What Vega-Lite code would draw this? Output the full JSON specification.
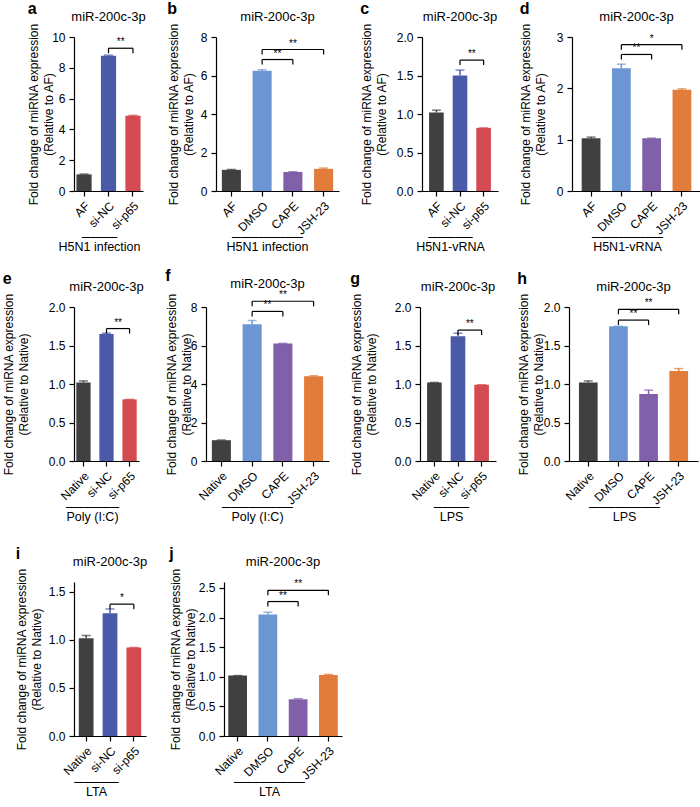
{
"$schema": "https://vega.github.io/schema/vega-lite/v6.json",
"padding": {"left": 2, "top": 0, "right": 0, "bottom": 0},
"config": {
  "font": "Liberation Sans",
  "view": {"stroke": null},
  "axis": {"grid": false, "domainColor": "#000", "tickColor": "#000", "labelColor": "#000", "titleColor": "#000", "labelFontSize": 12, "titleFontSize": 12, "titleFontWeight": "normal", "tickSize": 5, "domainWidth": 1.2, "tickWidth": 1.2, "labelPadding": 4, "titleLineHeight": 15, "labelOverlap": false},
  "axisX": {"labelAngle": -45, "titlePadding": 4, "titleFontSize": 12.5},
  "title": {"anchor": "start", "frame": "bounds", "fontSize": 16, "fontWeight": "bold", "offset": -6, "color": "#000"},
  "text": {"color": "#000"}
},
"datasets": {
  "bars": [
    {"p": "a", "c": "AF", "v": 1.08, "hi": 1.10},
    {"p": "a", "c": "si-NC", "v": 8.79, "hi": 8.82},
    {"p": "a", "c": "si-p65", "v": 4.89, "hi": 4.91},
    {"p": "b", "c": "AF", "v": 1.10, "hi": 1.12},
    {"p": "b", "c": "DMSO", "v": 6.25, "hi": 6.30},
    {"p": "b", "c": "CAPE", "v": 0.99, "hi": 1.00},
    {"p": "b", "c": "JSH-23", "v": 1.15, "hi": 1.19},
    {"p": "c", "c": "AF", "v": 1.02, "hi": 1.05},
    {"p": "c", "c": "si-NC", "v": 1.50, "hi": 1.57},
    {"p": "c", "c": "si-p65", "v": 0.82, "hi": 0.82},
    {"p": "d", "c": "AF", "v": 1.03, "hi": 1.05},
    {"p": "d", "c": "DMSO", "v": 2.39, "hi": 2.47},
    {"p": "d", "c": "CAPE", "v": 1.03, "hi": 1.03},
    {"p": "d", "c": "JSH-23", "v": 1.97, "hi": 1.99},
    {"p": "e", "c": "Native", "v": 1.02, "hi": 1.04},
    {"p": "e", "c": "si-NC", "v": 1.65, "hi": 1.66},
    {"p": "e", "c": "si-p65", "v": 0.80, "hi": 0.80},
    {"p": "f", "c": "Native", "v": 1.08, "hi": 1.09},
    {"p": "f", "c": "DMSO", "v": 7.10, "hi": 7.30},
    {"p": "f", "c": "CAPE", "v": 6.10, "hi": 6.11},
    {"p": "f", "c": "JSH-23", "v": 4.40, "hi": 4.43},
    {"p": "g", "c": "Native", "v": 1.02, "hi": 1.02},
    {"p": "g", "c": "si-NC", "v": 1.62, "hi": 1.66},
    {"p": "g", "c": "si-p65", "v": 0.99, "hi": 0.99},
    {"p": "h", "c": "Native", "v": 1.02, "hi": 1.04},
    {"p": "h", "c": "DMSO", "v": 1.75, "hi": 1.75},
    {"p": "h", "c": "CAPE", "v": 0.87, "hi": 0.92},
    {"p": "h", "c": "JSH-23", "v": 1.17, "hi": 1.20},
    {"p": "i", "c": "Native", "v": 1.015, "hi": 1.045},
    {"p": "i", "c": "si-NC", "v": 1.275, "hi": 1.32},
    {"p": "i", "c": "si-p65", "v": 0.92, "hi": 0.92},
    {"p": "j", "c": "Native", "v": 1.02, "hi": 1.02},
    {"p": "j", "c": "DMSO", "v": 2.05, "hi": 2.09},
    {"p": "j", "c": "CAPE", "v": 0.62, "hi": 0.63},
    {"p": "j", "c": "JSH-23", "v": 1.03, "hi": 1.04}
  ],
  "br": [
    {"p": "a", "from": "si-NC", "to": "si-p65", "y": 9.27, "t": "**"},
    {"p": "b", "from": "DMSO", "to": "CAPE", "y": 6.83, "t": "**"},
    {"p": "b", "from": "DMSO", "to": "JSH-23", "y": 7.35, "t": "**"},
    {"p": "c", "from": "si-NC", "to": "si-p65", "y": 1.70, "t": "**"},
    {"p": "d", "from": "DMSO", "to": "CAPE", "y": 2.66, "t": "**"},
    {"p": "d", "from": "DMSO", "to": "JSH-23", "y": 2.85, "t": "*"},
    {"p": "e", "from": "si-NC", "to": "si-p65", "y": 1.72, "t": "**"},
    {"p": "f", "from": "DMSO", "to": "CAPE", "y": 7.77, "t": "**"},
    {"p": "f", "from": "DMSO", "to": "JSH-23", "y": 8.30, "t": "**"},
    {"p": "g", "from": "si-NC", "to": "si-p65", "y": 1.70, "t": "**"},
    {"p": "h", "from": "DMSO", "to": "CAPE", "y": 1.83, "t": "**"},
    {"p": "h", "from": "DMSO", "to": "JSH-23", "y": 1.97, "t": "**"},
    {"p": "i", "from": "si-NC", "to": "si-p65", "y": 1.37, "t": "*"},
    {"p": "j", "from": "DMSO", "to": "CAPE", "y": 2.27, "t": "**"},
    {"p": "j", "from": "DMSO", "to": "JSH-23", "y": 2.46, "t": "**"}
  ]
},
"spacing": 22,
"vconcat": [
{"spacing": 15, "vconcat": [
{"spacing": 21, "hconcat": [
{"title": {"text": "a"}, "vconcat": [{
 "title": {"text": "miR-200c-3p", "anchor": "middle", "frame": "group", "fontSize": 13, "fontWeight": "normal", "offset": -1},
 "width": 69, "height": 154,
 "layer": [
  {"data": {"name": "bars"}, "transform": [{"filter": "datum.p == 'a'"}], "mark": "bar",
   "encoding": {
     "x": {"field": "c", "type": "nominal", "scale": {"domain": ["AF", "si-NC", "si-p65"], "paddingInner": 0.38, "paddingOuter": 0.1}, "axis": {"title": ["────", "H5N1 infection"], "titleX": 25, "titleY": 39, "titleLineHeight": 10}},
     "y": {"field": "v", "type": "quantitative", "scale": {"domain": [0, 10]}, "axis": {"values": [0, 2, 4, 6, 8, 10], "format": "d", "tickCount": 12, "labelOverlap": false, "title": ["Fold change of miRNA expression", "(Relative to AF)"], "titlePadding": -4}},
     "color": {"field": "c", "type": "nominal", "scale": {"domain": ["AF", "Native", "si-NC", "si-p65", "DMSO", "CAPE", "JSH-23"], "range": ["#404040", "#404040", "#4b5aa8", "#d34a50", "#6b96d3", "#8060a8", "#e17c3b"]}, "legend": null}}},
  {"data": {"name": "bars"}, "transform": [{"filter": "datum.p == 'a'"}], "mark": {"type": "rule", "strokeWidth": 1.5},
   "encoding": {"x": {"field": "c", "type": "nominal"}, "y": {"field": "v", "type": "quantitative"}, "y2": {"field": "hi"}, "color": {"field": "c", "type": "nominal", "legend": null}}},
  {"data": {"name": "bars"}, "transform": [{"filter": "datum.p == 'a'"}], "mark": {"type": "tick", "thickness": 1.5, "size": 9},
   "encoding": {"x": {"field": "c", "type": "nominal"}, "y": {"field": "hi", "type": "quantitative"}, "color": {"field": "c", "type": "nominal", "legend": null}}},
  {"data": {"name": "br"}, "transform": [{"filter": "datum.p == 'a'"}], "mark": {"type": "rule", "color": "#000", "strokeWidth": 1.2},
   "encoding": {"x": {"field": "from", "type": "nominal"}, "x2": {"field": "to"}, "y": {"field": "y", "type": "quantitative"}}},
  {"data": {"name": "br"}, "transform": [{"filter": "datum.p == 'a'"}], "mark": {"type": "rule", "color": "#000", "strokeWidth": 1.2, "y2Offset": 5},
   "encoding": {"x": {"field": "from", "type": "nominal"}, "y": {"field": "y", "type": "quantitative"}, "y2": {"field": "y"}}},
  {"data": {"name": "br"}, "transform": [{"filter": "datum.p == 'a'"}], "mark": {"type": "rule", "color": "#000", "strokeWidth": 1.2, "y2Offset": 5},
   "encoding": {"x": {"field": "to", "type": "nominal"}, "y": {"field": "y", "type": "quantitative"}, "y2": {"field": "y"}}},
  {"data": {"name": "br"}, "transform": [{"filter": "datum.p == 'a'"}], "mark": {"type": "text", "baseline": "bottom", "fontSize": 10, "dy": -1, "color": "#000"},
   "encoding": {"x": {"field": "from", "type": "nominal", "bandPosition": 1.3065}, "y": {"field": "y", "type": "quantitative"}, "text": {"field": "t"}}}
 ]
}]},
{"title": {"text": "b"}, "vconcat": [{
 "title": {"text": "miR-200c-3p", "anchor": "middle", "frame": "group", "fontSize": 13, "fontWeight": "normal", "offset": -1},
 "width": 123, "height": 154,
 "layer": [
  {"data": {"name": "bars"}, "transform": [{"filter": "datum.p == 'b'"}], "mark": "bar",
   "encoding": {
     "x": {"field": "c", "type": "nominal", "scale": {"domain": ["AF", "DMSO", "CAPE", "JSH-23"], "paddingInner": 0.38, "paddingOuter": 0.19}, "axis": {"title": ["────────", "H5N1 infection"], "titleX": 51, "titleY": 39, "titleLineHeight": 10}},
     "y": {"field": "v", "type": "quantitative", "scale": {"domain": [0, 8]}, "axis": {"values": [0, 2, 4, 6, 8], "format": "d", "tickCount": 12, "labelOverlap": false, "title": ["Fold change of miRNA expression", "(Relative to AF)"], "titlePadding": 5}},
     "color": {"field": "c", "type": "nominal", "scale": {"domain": ["AF", "Native", "si-NC", "si-p65", "DMSO", "CAPE", "JSH-23"], "range": ["#404040", "#404040", "#4b5aa8", "#d34a50", "#6b96d3", "#8060a8", "#e17c3b"]}, "legend": null}}},
  {"data": {"name": "bars"}, "transform": [{"filter": "datum.p == 'b'"}], "mark": {"type": "rule", "strokeWidth": 1.5},
   "encoding": {"x": {"field": "c", "type": "nominal"}, "y": {"field": "v", "type": "quantitative"}, "y2": {"field": "hi"}, "color": {"field": "c", "type": "nominal", "legend": null}}},
  {"data": {"name": "bars"}, "transform": [{"filter": "datum.p == 'b'"}], "mark": {"type": "tick", "thickness": 1.5, "size": 9},
   "encoding": {"x": {"field": "c", "type": "nominal"}, "y": {"field": "hi", "type": "quantitative"}, "color": {"field": "c", "type": "nominal", "legend": null}}},
  {"data": {"name": "br"}, "transform": [{"filter": "datum.p == 'b'"}], "mark": {"type": "rule", "color": "#000", "strokeWidth": 1.2},
   "encoding": {"x": {"field": "from", "type": "nominal"}, "x2": {"field": "to"}, "y": {"field": "y", "type": "quantitative"}}},
  {"data": {"name": "br"}, "transform": [{"filter": "datum.p == 'b'"}], "mark": {"type": "rule", "color": "#000", "strokeWidth": 1.2, "y2Offset": 5},
   "encoding": {"x": {"field": "from", "type": "nominal"}, "y": {"field": "y", "type": "quantitative"}, "y2": {"field": "y"}}},
  {"data": {"name": "br"}, "transform": [{"filter": "datum.p == 'b'"}], "mark": {"type": "rule", "color": "#000", "strokeWidth": 1.2, "y2Offset": 5},
   "encoding": {"x": {"field": "to", "type": "nominal"}, "y": {"field": "y", "type": "quantitative"}, "y2": {"field": "y"}}},
  {"data": {"name": "br"}, "transform": [{"filter": "datum.p == 'b' && datum.to != 'JSH-23'"}], "mark": {"type": "text", "baseline": "bottom", "fontSize": 10, "dy": -1, "color": "#000"},
   "encoding": {"x": {"field": "from", "type": "nominal", "bandPosition": 1.3065}, "y": {"field": "y", "type": "quantitative"}, "text": {"field": "t"}}},
  {"data": {"name": "br"}, "transform": [{"filter": "datum.p == 'b' && datum.to == 'JSH-23'"}], "mark": {"type": "text", "baseline": "bottom", "fontSize": 10, "dy": -1, "color": "#000"},
   "encoding": {"x": {"field": "from", "type": "nominal", "bandPosition": 2.1129}, "y": {"field": "y", "type": "quantitative"}, "text": {"field": "t"}}}
 ]
}]},
{"title": {"text": "c"}, "vconcat": [{
 "title": {"text": "miR-200c-3p", "anchor": "middle", "frame": "group", "fontSize": 13, "fontWeight": "normal", "offset": -1},
 "width": 76, "height": 154,
 "layer": [
  {"data": {"name": "bars"}, "transform": [{"filter": "datum.p == 'c'"}], "mark": "bar",
   "encoding": {
     "x": {"field": "c", "type": "nominal", "scale": {"domain": ["AF", "si-NC", "si-p65"], "paddingInner": 0.38, "paddingOuter": 0.3}, "axis": {"title": ["─────", "H5N1-vRNA"], "titleX": 28, "titleY": 39, "titleLineHeight": 10}},
     "y": {"field": "v", "type": "quantitative", "scale": {"domain": [0, 2]}, "axis": {"values": [0, 0.5, 1, 1.5, 2], "tickCount": 12, "labelOverlap": false, "format": ".1f", "title": ["Fold change of miRNA expression", "(Relative to AF)"], "titlePadding": 8}},
     "color": {"field": "c", "type": "nominal", "scale": {"domain": ["AF", "Native", "si-NC", "si-p65", "DMSO", "CAPE", "JSH-23"], "range": ["#404040", "#404040", "#4b5aa8", "#d34a50", "#6b96d3", "#8060a8", "#e17c3b"]}, "legend": null}}},
  {"data": {"name": "bars"}, "transform": [{"filter": "datum.p == 'c'"}], "mark": {"type": "rule", "strokeWidth": 1.5},
   "encoding": {"x": {"field": "c", "type": "nominal"}, "y": {"field": "v", "type": "quantitative"}, "y2": {"field": "hi"}, "color": {"field": "c", "type": "nominal", "legend": null}}},
  {"data": {"name": "bars"}, "transform": [{"filter": "datum.p == 'c'"}], "mark": {"type": "tick", "thickness": 1.5, "size": 9},
   "encoding": {"x": {"field": "c", "type": "nominal"}, "y": {"field": "hi", "type": "quantitative"}, "color": {"field": "c", "type": "nominal", "legend": null}}},
  {"data": {"name": "br"}, "transform": [{"filter": "datum.p == 'c'"}], "mark": {"type": "rule", "color": "#000", "strokeWidth": 1.2},
   "encoding": {"x": {"field": "from", "type": "nominal"}, "x2": {"field": "to"}, "y": {"field": "y", "type": "quantitative"}}},
  {"data": {"name": "br"}, "transform": [{"filter": "datum.p == 'c'"}], "mark": {"type": "rule", "color": "#000", "strokeWidth": 1.2, "y2Offset": 5},
   "encoding": {"x": {"field": "from", "type": "nominal"}, "y": {"field": "y", "type": "quantitative"}, "y2": {"field": "y"}}},
  {"data": {"name": "br"}, "transform": [{"filter": "datum.p == 'c'"}], "mark": {"type": "rule", "color": "#000", "strokeWidth": 1.2, "y2Offset": 5},
   "encoding": {"x": {"field": "to", "type": "nominal"}, "y": {"field": "y", "type": "quantitative"}, "y2": {"field": "y"}}},
  {"data": {"name": "br"}, "transform": [{"filter": "datum.p == 'c'"}], "mark": {"type": "text", "baseline": "bottom", "fontSize": 10, "dy": -1, "color": "#000"},
   "encoding": {"x": {"field": "from", "type": "nominal", "bandPosition": 1.3065}, "y": {"field": "y", "type": "quantitative"}, "text": {"field": "t"}}}
 ]
}]},
{"title": {"text": "d"}, "vconcat": [{
 "title": {"text": "miR-200c-3p", "anchor": "middle", "frame": "group", "fontSize": 13, "fontWeight": "normal", "offset": -1},
 "width": 129, "height": 154,
 "layer": [
  {"data": {"name": "bars"}, "transform": [{"filter": "datum.p == 'd'"}], "mark": "bar",
   "encoding": {
     "x": {"field": "c", "type": "nominal", "scale": {"domain": ["AF", "DMSO", "CAPE", "JSH-23"], "paddingInner": 0.38, "paddingOuter": 0.32}, "axis": {"title": ["────────", "H5N1-vRNA"], "titleX": 55, "titleY": 39, "titleLineHeight": 10}},
     "y": {"field": "v", "type": "quantitative", "scale": {"domain": [0, 3]}, "axis": {"values": [0, 1, 2, 3], "format": "d", "tickCount": 12, "labelOverlap": false, "title": ["Fold change of miRNA expression", "(Relative to AF)"], "titlePadding": 8.5}},
     "color": {"field": "c", "type": "nominal", "scale": {"domain": ["AF", "Native", "si-NC", "si-p65", "DMSO", "CAPE", "JSH-23"], "range": ["#404040", "#404040", "#4b5aa8", "#d34a50", "#6b96d3", "#8060a8", "#e17c3b"]}, "legend": null}}},
  {"data": {"name": "bars"}, "transform": [{"filter": "datum.p == 'd'"}], "mark": {"type": "rule", "strokeWidth": 1.5},
   "encoding": {"x": {"field": "c", "type": "nominal"}, "y": {"field": "v", "type": "quantitative"}, "y2": {"field": "hi"}, "color": {"field": "c", "type": "nominal", "legend": null}}},
  {"data": {"name": "bars"}, "transform": [{"filter": "datum.p == 'd'"}], "mark": {"type": "tick", "thickness": 1.5, "size": 9},
   "encoding": {"x": {"field": "c", "type": "nominal"}, "y": {"field": "hi", "type": "quantitative"}, "color": {"field": "c", "type": "nominal", "legend": null}}},
  {"data": {"name": "br"}, "transform": [{"filter": "datum.p == 'd'"}], "mark": {"type": "rule", "color": "#000", "strokeWidth": 1.2},
   "encoding": {"x": {"field": "from", "type": "nominal"}, "x2": {"field": "to"}, "y": {"field": "y", "type": "quantitative"}}},
  {"data": {"name": "br"}, "transform": [{"filter": "datum.p == 'd'"}], "mark": {"type": "rule", "color": "#000", "strokeWidth": 1.2, "y2Offset": 5},
   "encoding": {"x": {"field": "from", "type": "nominal"}, "y": {"field": "y", "type": "quantitative"}, "y2": {"field": "y"}}},
  {"data": {"name": "br"}, "transform": [{"filter": "datum.p == 'd'"}], "mark": {"type": "rule", "color": "#000", "strokeWidth": 1.2, "y2Offset": 5},
   "encoding": {"x": {"field": "to", "type": "nominal"}, "y": {"field": "y", "type": "quantitative"}, "y2": {"field": "y"}}},
  {"data": {"name": "br"}, "transform": [{"filter": "datum.p == 'd' && datum.to != 'JSH-23'"}], "mark": {"type": "text", "baseline": "bottom", "fontSize": 10, "dy": -1, "color": "#000"},
   "encoding": {"x": {"field": "from", "type": "nominal", "bandPosition": 1.3065}, "y": {"field": "y", "type": "quantitative"}, "text": {"field": "t"}}},
  {"data": {"name": "br"}, "transform": [{"filter": "datum.p == 'd' && datum.to == 'JSH-23'"}], "mark": {"type": "text", "baseline": "bottom", "fontSize": 10, "dy": -1, "color": "#000"},
   "encoding": {"x": {"field": "from", "type": "nominal", "bandPosition": 2.1129}, "y": {"field": "y", "type": "quantitative"}, "text": {"field": "t"}}}
 ]
}]}
]},
{"spacing": 21, "hconcat": [
{"title": {"text": "e"}, "vconcat": [{
 "title": {"text": "miR-200c-3p", "anchor": "middle", "frame": "group", "fontSize": 13, "fontWeight": "normal", "offset": -1},
 "width": 65, "height": 154,
 "layer": [
  {"data": {"name": "bars"}, "transform": [{"filter": "datum.p == 'e'"}], "mark": "bar",
   "encoding": {
     "x": {"field": "c", "type": "nominal", "scale": {"domain": ["Native", "si-NC", "si-p65"], "paddingInner": 0.38, "paddingOuter": 0.1}, "axis": {"title": ["──────", "Poly (I:C)"], "titleX": 18, "titleY": 39, "titleLineHeight": 10}},
     "y": {"field": "v", "type": "quantitative", "scale": {"domain": [0, 2]}, "axis": {"values": [0, 0.5, 1, 1.5, 2], "tickCount": 12, "labelOverlap": false, "format": ".1f", "title": ["Fold change of miRNA expression", "(Relative to Native)"], "titlePadding": 17.5}},
     "color": {"field": "c", "type": "nominal", "scale": {"domain": ["AF", "Native", "si-NC", "si-p65", "DMSO", "CAPE", "JSH-23"], "range": ["#404040", "#404040", "#4b5aa8", "#d34a50", "#6b96d3", "#8060a8", "#e17c3b"]}, "legend": null}}},
  {"data": {"name": "bars"}, "transform": [{"filter": "datum.p == 'e'"}], "mark": {"type": "rule", "strokeWidth": 1.5},
   "encoding": {"x": {"field": "c", "type": "nominal"}, "y": {"field": "v", "type": "quantitative"}, "y2": {"field": "hi"}, "color": {"field": "c", "type": "nominal", "legend": null}}},
  {"data": {"name": "bars"}, "transform": [{"filter": "datum.p == 'e'"}], "mark": {"type": "tick", "thickness": 1.5, "size": 9},
   "encoding": {"x": {"field": "c", "type": "nominal"}, "y": {"field": "hi", "type": "quantitative"}, "color": {"field": "c", "type": "nominal", "legend": null}}},
  {"data": {"name": "br"}, "transform": [{"filter": "datum.p == 'e'"}], "mark": {"type": "rule", "color": "#000", "strokeWidth": 1.2},
   "encoding": {"x": {"field": "from", "type": "nominal"}, "x2": {"field": "to"}, "y": {"field": "y", "type": "quantitative"}}},
  {"data": {"name": "br"}, "transform": [{"filter": "datum.p == 'e'"}], "mark": {"type": "rule", "color": "#000", "strokeWidth": 1.2, "y2Offset": 5},
   "encoding": {"x": {"field": "from", "type": "nominal"}, "y": {"field": "y", "type": "quantitative"}, "y2": {"field": "y"}}},
  {"data": {"name": "br"}, "transform": [{"filter": "datum.p == 'e'"}], "mark": {"type": "rule", "color": "#000", "strokeWidth": 1.2, "y2Offset": 5},
   "encoding": {"x": {"field": "to", "type": "nominal"}, "y": {"field": "y", "type": "quantitative"}, "y2": {"field": "y"}}},
  {"data": {"name": "br"}, "transform": [{"filter": "datum.p == 'e'"}], "mark": {"type": "text", "baseline": "bottom", "fontSize": 10, "dy": -1, "color": "#000"},
   "encoding": {"x": {"field": "from", "type": "nominal", "bandPosition": 1.3065}, "y": {"field": "y", "type": "quantitative"}, "text": {"field": "t"}}}
 ]
}]},
{"title": {"text": "f"}, "vconcat": [{
 "title": {"text": "miR-200c-3p", "anchor": "middle", "frame": "group", "fontSize": 13, "fontWeight": "normal", "offset": -1},
 "width": 123, "height": 154,
 "layer": [
  {"data": {"name": "bars"}, "transform": [{"filter": "datum.p == 'f'"}], "mark": "bar",
   "encoding": {
     "x": {"field": "c", "type": "nominal", "scale": {"domain": ["Native", "DMSO", "CAPE", "JSH-23"], "paddingInner": 0.38, "paddingOuter": 0.19}, "axis": {"title": ["────────", "Poly (I:C)"], "titleX": 51, "titleY": 39, "titleLineHeight": 10}},
     "y": {"field": "v", "type": "quantitative", "scale": {"domain": [0, 8]}, "axis": {"values": [0, 2, 4, 6, 8], "format": "d", "tickCount": 12, "labelOverlap": false, "title": ["Fold change of miRNA expression", "(Relative to Native)"], "titlePadding": -3}},
     "color": {"field": "c", "type": "nominal", "scale": {"domain": ["AF", "Native", "si-NC", "si-p65", "DMSO", "CAPE", "JSH-23"], "range": ["#404040", "#404040", "#4b5aa8", "#d34a50", "#6b96d3", "#8060a8", "#e17c3b"]}, "legend": null}}},
  {"data": {"name": "bars"}, "transform": [{"filter": "datum.p == 'f'"}], "mark": {"type": "rule", "strokeWidth": 1.5},
   "encoding": {"x": {"field": "c", "type": "nominal"}, "y": {"field": "v", "type": "quantitative"}, "y2": {"field": "hi"}, "color": {"field": "c", "type": "nominal", "legend": null}}},
  {"data": {"name": "bars"}, "transform": [{"filter": "datum.p == 'f'"}], "mark": {"type": "tick", "thickness": 1.5, "size": 9},
   "encoding": {"x": {"field": "c", "type": "nominal"}, "y": {"field": "hi", "type": "quantitative"}, "color": {"field": "c", "type": "nominal", "legend": null}}},
  {"data": {"name": "br"}, "transform": [{"filter": "datum.p == 'f'"}], "mark": {"type": "rule", "color": "#000", "strokeWidth": 1.2},
   "encoding": {"x": {"field": "from", "type": "nominal"}, "x2": {"field": "to"}, "y": {"field": "y", "type": "quantitative"}}},
  {"data": {"name": "br"}, "transform": [{"filter": "datum.p == 'f'"}], "mark": {"type": "rule", "color": "#000", "strokeWidth": 1.2, "y2Offset": 5},
   "encoding": {"x": {"field": "from", "type": "nominal"}, "y": {"field": "y", "type": "quantitative"}, "y2": {"field": "y"}}},
  {"data": {"name": "br"}, "transform": [{"filter": "datum.p == 'f'"}], "mark": {"type": "rule", "color": "#000", "strokeWidth": 1.2, "y2Offset": 5},
   "encoding": {"x": {"field": "to", "type": "nominal"}, "y": {"field": "y", "type": "quantitative"}, "y2": {"field": "y"}}},
  {"data": {"name": "br"}, "transform": [{"filter": "datum.p == 'f' && datum.to != 'JSH-23'"}], "mark": {"type": "text", "baseline": "bottom", "fontSize": 10, "dy": -1, "color": "#000"},
   "encoding": {"x": {"field": "from", "type": "nominal", "bandPosition": 1.3065}, "y": {"field": "y", "type": "quantitative"}, "text": {"field": "t"}}},
  {"data": {"name": "br"}, "transform": [{"filter": "datum.p == 'f' && datum.to == 'JSH-23'"}], "mark": {"type": "text", "baseline": "bottom", "fontSize": 10, "dy": -1, "color": "#000"},
   "encoding": {"x": {"field": "from", "type": "nominal", "bandPosition": 2.1129}, "y": {"field": "y", "type": "quantitative"}, "text": {"field": "t"}}}
 ]
}]},
{"title": {"text": "g"}, "vconcat": [{
 "title": {"text": "miR-200c-3p", "anchor": "middle", "frame": "group", "fontSize": 13, "fontWeight": "normal", "offset": -1},
 "width": 76, "height": 154,
 "layer": [
  {"data": {"name": "bars"}, "transform": [{"filter": "datum.p == 'g'"}], "mark": "bar",
   "encoding": {
     "x": {"field": "c", "type": "nominal", "scale": {"domain": ["Native", "si-NC", "si-p65"], "paddingInner": 0.38, "paddingOuter": 0.3}, "axis": {"title": ["────", "LPS"], "titleX": 31, "titleY": 39, "titleLineHeight": 10}},
     "y": {"field": "v", "type": "quantitative", "scale": {"domain": [0, 2]}, "axis": {"values": [0, 0.5, 1, 1.5, 2], "tickCount": 12, "labelOverlap": false, "format": ".1f", "title": ["Fold change of miRNA expression", "(Relative to Native)"], "titlePadding": 16}},
     "color": {"field": "c", "type": "nominal", "scale": {"domain": ["AF", "Native", "si-NC", "si-p65", "DMSO", "CAPE", "JSH-23"], "range": ["#404040", "#404040", "#4b5aa8", "#d34a50", "#6b96d3", "#8060a8", "#e17c3b"]}, "legend": null}}},
  {"data": {"name": "bars"}, "transform": [{"filter": "datum.p == 'g'"}], "mark": {"type": "rule", "strokeWidth": 1.5},
   "encoding": {"x": {"field": "c", "type": "nominal"}, "y": {"field": "v", "type": "quantitative"}, "y2": {"field": "hi"}, "color": {"field": "c", "type": "nominal", "legend": null}}},
  {"data": {"name": "bars"}, "transform": [{"filter": "datum.p == 'g'"}], "mark": {"type": "tick", "thickness": 1.5, "size": 9},
   "encoding": {"x": {"field": "c", "type": "nominal"}, "y": {"field": "hi", "type": "quantitative"}, "color": {"field": "c", "type": "nominal", "legend": null}}},
  {"data": {"name": "br"}, "transform": [{"filter": "datum.p == 'g'"}], "mark": {"type": "rule", "color": "#000", "strokeWidth": 1.2},
   "encoding": {"x": {"field": "from", "type": "nominal"}, "x2": {"field": "to"}, "y": {"field": "y", "type": "quantitative"}}},
  {"data": {"name": "br"}, "transform": [{"filter": "datum.p == 'g'"}], "mark": {"type": "rule", "color": "#000", "strokeWidth": 1.2, "y2Offset": 5},
   "encoding": {"x": {"field": "from", "type": "nominal"}, "y": {"field": "y", "type": "quantitative"}, "y2": {"field": "y"}}},
  {"data": {"name": "br"}, "transform": [{"filter": "datum.p == 'g'"}], "mark": {"type": "rule", "color": "#000", "strokeWidth": 1.2, "y2Offset": 5},
   "encoding": {"x": {"field": "to", "type": "nominal"}, "y": {"field": "y", "type": "quantitative"}, "y2": {"field": "y"}}},
  {"data": {"name": "br"}, "transform": [{"filter": "datum.p == 'g'"}], "mark": {"type": "text", "baseline": "bottom", "fontSize": 10, "dy": -1, "color": "#000"},
   "encoding": {"x": {"field": "from", "type": "nominal", "bandPosition": 1.3065}, "y": {"field": "y", "type": "quantitative"}, "text": {"field": "t"}}}
 ]
}]},
{"title": {"text": "h"}, "vconcat": [{
 "title": {"text": "miR-200c-3p", "anchor": "middle", "frame": "group", "fontSize": 13, "fontWeight": "normal", "offset": -1},
 "width": 129, "height": 154,
 "layer": [
  {"data": {"name": "bars"}, "transform": [{"filter": "datum.p == 'h'"}], "mark": "bar",
   "encoding": {
     "x": {"field": "c", "type": "nominal", "scale": {"domain": ["Native", "DMSO", "CAPE", "JSH-23"], "paddingInner": 0.38, "paddingOuter": 0.33}, "axis": {"title": ["────────", "LPS"], "titleX": 55, "titleY": 39, "titleLineHeight": 10}},
     "y": {"field": "v", "type": "quantitative", "scale": {"domain": [0, 2]}, "axis": {"values": [0, 0.5, 1, 1.5, 2], "tickCount": 12, "labelOverlap": false, "format": ".1f", "title": ["Fold change of miRNA expression", "(Relative to Native)"], "titlePadding": -2}},
     "color": {"field": "c", "type": "nominal", "scale": {"domain": ["AF", "Native", "si-NC", "si-p65", "DMSO", "CAPE", "JSH-23"], "range": ["#404040", "#404040", "#4b5aa8", "#d34a50", "#6b96d3", "#8060a8", "#e17c3b"]}, "legend": null}}},
  {"data": {"name": "bars"}, "transform": [{"filter": "datum.p == 'h'"}], "mark": {"type": "rule", "strokeWidth": 1.5},
   "encoding": {"x": {"field": "c", "type": "nominal"}, "y": {"field": "v", "type": "quantitative"}, "y2": {"field": "hi"}, "color": {"field": "c", "type": "nominal", "legend": null}}},
  {"data": {"name": "bars"}, "transform": [{"filter": "datum.p == 'h'"}], "mark": {"type": "tick", "thickness": 1.5, "size": 9},
   "encoding": {"x": {"field": "c", "type": "nominal"}, "y": {"field": "hi", "type": "quantitative"}, "color": {"field": "c", "type": "nominal", "legend": null}}},
  {"data": {"name": "br"}, "transform": [{"filter": "datum.p == 'h'"}], "mark": {"type": "rule", "color": "#000", "strokeWidth": 1.2},
   "encoding": {"x": {"field": "from", "type": "nominal"}, "x2": {"field": "to"}, "y": {"field": "y", "type": "quantitative"}}},
  {"data": {"name": "br"}, "transform": [{"filter": "datum.p == 'h'"}], "mark": {"type": "rule", "color": "#000", "strokeWidth": 1.2, "y2Offset": 5},
   "encoding": {"x": {"field": "from", "type": "nominal"}, "y": {"field": "y", "type": "quantitative"}, "y2": {"field": "y"}}},
  {"data": {"name": "br"}, "transform": [{"filter": "datum.p == 'h'"}], "mark": {"type": "rule", "color": "#000", "strokeWidth": 1.2, "y2Offset": 5},
   "encoding": {"x": {"field": "to", "type": "nominal"}, "y": {"field": "y", "type": "quantitative"}, "y2": {"field": "y"}}},
  {"data": {"name": "br"}, "transform": [{"filter": "datum.p == 'h' && datum.to != 'JSH-23'"}], "mark": {"type": "text", "baseline": "bottom", "fontSize": 10, "dy": -1, "color": "#000"},
   "encoding": {"x": {"field": "from", "type": "nominal", "bandPosition": 1.3065}, "y": {"field": "y", "type": "quantitative"}, "text": {"field": "t"}}},
  {"data": {"name": "br"}, "transform": [{"filter": "datum.p == 'h' && datum.to == 'JSH-23'"}], "mark": {"type": "text", "baseline": "bottom", "fontSize": 10, "dy": -1, "color": "#000"},
   "encoding": {"x": {"field": "from", "type": "nominal", "bandPosition": 2.1129}, "y": {"field": "y", "type": "quantitative"}, "text": {"field": "t"}}}
 ]
}]}
]}
]},
{"spacing": 21, "hconcat": [
{"title": {"text": "i"}, "vconcat": [{
 "title": {"text": "miR-200c-3p", "anchor": "middle", "frame": "group", "fontSize": 13, "fontWeight": "normal", "offset": -1},
 "width": 72, "height": 154,
 "layer": [
  {"data": {"name": "bars"}, "transform": [{"filter": "datum.p == 'i'"}], "mark": "bar",
   "encoding": {
     "x": {"field": "c", "type": "nominal", "scale": {"domain": ["Native", "si-NC", "si-p65"], "paddingInner": 0.38, "paddingOuter": 0.2}, "axis": {"title": ["─────", "LTA"], "titleX": 22, "titleY": 39, "titleLineHeight": 10}},
     "y": {"field": "v", "type": "quantitative", "scale": {"domain": [0, 1.5]}, "axis": {"values": [0, 0.5, 1, 1.5], "tickCount": 12, "labelOverlap": false, "format": ".1f", "title": ["Fold change of miRNA expression", "(Relative to Native)"], "titlePadding": 4.5}},
     "color": {"field": "c", "type": "nominal", "scale": {"domain": ["AF", "Native", "si-NC", "si-p65", "DMSO", "CAPE", "JSH-23"], "range": ["#404040", "#404040", "#4b5aa8", "#d34a50", "#6b96d3", "#8060a8", "#e17c3b"]}, "legend": null}}},
  {"data": {"name": "bars"}, "transform": [{"filter": "datum.p == 'i'"}], "mark": {"type": "rule", "strokeWidth": 1.5},
   "encoding": {"x": {"field": "c", "type": "nominal"}, "y": {"field": "v", "type": "quantitative"}, "y2": {"field": "hi"}, "color": {"field": "c", "type": "nominal", "legend": null}}},
  {"data": {"name": "bars"}, "transform": [{"filter": "datum.p == 'i'"}], "mark": {"type": "tick", "thickness": 1.5, "size": 9},
   "encoding": {"x": {"field": "c", "type": "nominal"}, "y": {"field": "hi", "type": "quantitative"}, "color": {"field": "c", "type": "nominal", "legend": null}}},
  {"data": {"name": "br"}, "transform": [{"filter": "datum.p == 'i'"}], "mark": {"type": "rule", "color": "#000", "strokeWidth": 1.2},
   "encoding": {"x": {"field": "from", "type": "nominal"}, "x2": {"field": "to"}, "y": {"field": "y", "type": "quantitative"}}},
  {"data": {"name": "br"}, "transform": [{"filter": "datum.p == 'i'"}], "mark": {"type": "rule", "color": "#000", "strokeWidth": 1.2, "y2Offset": 5},
   "encoding": {"x": {"field": "from", "type": "nominal"}, "y": {"field": "y", "type": "quantitative"}, "y2": {"field": "y"}}},
  {"data": {"name": "br"}, "transform": [{"filter": "datum.p == 'i'"}], "mark": {"type": "rule", "color": "#000", "strokeWidth": 1.2, "y2Offset": 5},
   "encoding": {"x": {"field": "to", "type": "nominal"}, "y": {"field": "y", "type": "quantitative"}, "y2": {"field": "y"}}},
  {"data": {"name": "br"}, "transform": [{"filter": "datum.p == 'i'"}], "mark": {"type": "text", "baseline": "bottom", "fontSize": 10, "dy": -1, "color": "#000"},
   "encoding": {"x": {"field": "from", "type": "nominal", "bandPosition": 1.3065}, "y": {"field": "y", "type": "quantitative"}, "text": {"field": "t"}}}
 ]
}]},
{"title": {"text": "j"}, "vconcat": [{
 "title": {"text": "miR-200c-3p", "anchor": "middle", "frame": "group", "fontSize": 13, "fontWeight": "normal", "offset": -1},
 "width": 118, "height": 154,
 "layer": [
  {"data": {"name": "bars"}, "transform": [{"filter": "datum.p == 'j'"}], "mark": "bar",
   "encoding": {
     "x": {"field": "c", "type": "nominal", "scale": {"domain": ["Native", "DMSO", "CAPE", "JSH-23"], "paddingInner": 0.38, "paddingOuter": 0.14}, "axis": {"title": ["────────", "LTA"], "titleX": 45, "titleY": 39, "titleLineHeight": 10}},
     "y": {"field": "v", "type": "quantitative", "scale": {"domain": [0, 2.5]}, "axis": {"values": [0, 0.5, 1, 1.5, 2, 2.5], "tickCount": 12, "labelOverlap": false, "format": ".1f", "title": ["Fold change of miRNA expression", "(Relative to Native)"], "titlePadding": 1}},
     "color": {"field": "c", "type": "nominal", "scale": {"domain": ["AF", "Native", "si-NC", "si-p65", "DMSO", "CAPE", "JSH-23"], "range": ["#404040", "#404040", "#4b5aa8", "#d34a50", "#6b96d3", "#8060a8", "#e17c3b"]}, "legend": null}}},
  {"data": {"name": "bars"}, "transform": [{"filter": "datum.p == 'j'"}], "mark": {"type": "rule", "strokeWidth": 1.5},
   "encoding": {"x": {"field": "c", "type": "nominal"}, "y": {"field": "v", "type": "quantitative"}, "y2": {"field": "hi"}, "color": {"field": "c", "type": "nominal", "legend": null}}},
  {"data": {"name": "bars"}, "transform": [{"filter": "datum.p == 'j'"}], "mark": {"type": "tick", "thickness": 1.5, "size": 9},
   "encoding": {"x": {"field": "c", "type": "nominal"}, "y": {"field": "hi", "type": "quantitative"}, "color": {"field": "c", "type": "nominal", "legend": null}}},
  {"data": {"name": "br"}, "transform": [{"filter": "datum.p == 'j'"}], "mark": {"type": "rule", "color": "#000", "strokeWidth": 1.2},
   "encoding": {"x": {"field": "from", "type": "nominal"}, "x2": {"field": "to"}, "y": {"field": "y", "type": "quantitative"}}},
  {"data": {"name": "br"}, "transform": [{"filter": "datum.p == 'j'"}], "mark": {"type": "rule", "color": "#000", "strokeWidth": 1.2, "y2Offset": 5},
   "encoding": {"x": {"field": "from", "type": "nominal"}, "y": {"field": "y", "type": "quantitative"}, "y2": {"field": "y"}}},
  {"data": {"name": "br"}, "transform": [{"filter": "datum.p == 'j'"}], "mark": {"type": "rule", "color": "#000", "strokeWidth": 1.2, "y2Offset": 5},
   "encoding": {"x": {"field": "to", "type": "nominal"}, "y": {"field": "y", "type": "quantitative"}, "y2": {"field": "y"}}},
  {"data": {"name": "br"}, "transform": [{"filter": "datum.p == 'j' && datum.to != 'JSH-23'"}], "mark": {"type": "text", "baseline": "bottom", "fontSize": 10, "dy": -1, "color": "#000"},
   "encoding": {"x": {"field": "from", "type": "nominal", "bandPosition": 1.3065}, "y": {"field": "y", "type": "quantitative"}, "text": {"field": "t"}}},
  {"data": {"name": "br"}, "transform": [{"filter": "datum.p == 'j' && datum.to == 'JSH-23'"}], "mark": {"type": "text", "baseline": "bottom", "fontSize": 10, "dy": -1, "color": "#000"},
   "encoding": {"x": {"field": "from", "type": "nominal", "bandPosition": 2.1129}, "y": {"field": "y", "type": "quantitative"}, "text": {"field": "t"}}}
 ]
}]}
]}
]
}
